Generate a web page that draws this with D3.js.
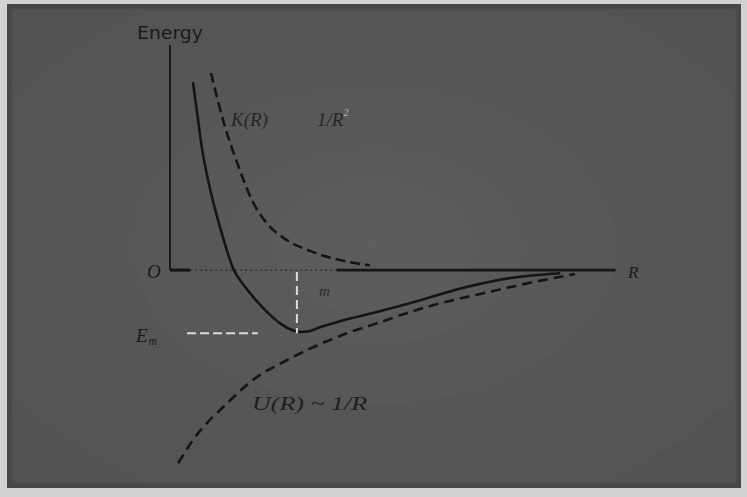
<!DOCTYPE html>
<html>
<head>
<meta charset="utf-8">
<script src="https://cdn.jsdelivr.net/npm/d3@7/dist/d3.min.js"></script>
<style>
  html, body { margin: 0; padding: 0; background: #cfcfcf; }
  svg { display: block; }
</style>
</head>
<body>
<svg id="chart" width="747" height="497"></svg>
<script>
// Separation R (arbitrary units) and energies along the three curves
const totalR = [0.51, 0.60, 0.71, 0.87, 1.11, 1.42, 1.62, 1.87, 2.16, 2.47, 2.71, 2.89, 3.09, 3.33, 3.78, 4.60, 5.33, 6.60, 7.56, 8.67];
const totalE = [4.70, 3.95, 3.05, 2.13, 1.08, 0.00, -0.35, -0.70, -1.05, -1.35, -1.50, -1.55, -1.53, -1.43, -1.28, -1.05, -0.83, -0.42, -0.20, -0.08];

const kineticR = [0.91, 1.18, 1.51, 1.82, 2.13, 2.53, 3.11, 3.78, 4.44];
const kineticE = [4.93, 3.75, 2.63, 1.75, 1.20, 0.80, 0.48, 0.25, 0.12];

const potentialR = [0.18, 0.51, 1.27, 1.84, 2.60, 3.18, 3.93, 4.60, 5.33, 5.84, 6.96, 8.07, 9.00];
const potentialE = [-4.83, -4.25, -3.33, -2.75, -2.25, -1.93, -1.58, -1.33, -1.05, -0.88, -0.58, -0.30, -0.10];

// Equilibrium separation and minimum energy
const Rm = 2.82;
const Em = -1.58;

const rDomain = [0, 10];
const eDomain = [-5, 5.63];

const svg = d3.select("#chart");
const x = d3.scaleLinear().domain(rDomain).range([170, 620]);
const y = d3.scaleLinear().domain(eDomain).range([470, 45]);

// Scanned-page backdrop
const defs = svg.append("defs");
const grad = defs.append("radialGradient").attr("id", "paper").attr("cx", "50%").attr("cy", "50%").attr("r", "70%");
grad.append("stop").attr("offset", "0%").attr("stop-color", "#5d5d5d");
grad.append("stop").attr("offset", "100%").attr("stop-color", "#525252");
defs.append("filter").attr("id", "soft").append("feGaussianBlur").attr("stdDeviation", 1.2);

svg.append("rect").attr("x", 0).attr("y", 0).attr("width", 747).attr("height", 497).attr("fill", "#d2d2d2");
svg.append("rect").attr("x", 7).attr("y", 4).attr("width", 734).attr("height", 484).attr("fill", "#474747");
svg.append("rect").attr("x", 12).attr("y", 9).attr("width", 724).attr("height", 474).attr("fill", "url(#paper)")
  .attr("filter", "url(#soft)");

const ink = "#151515";
const toPts = (rs, es) => rs.map((r, i) => [r, es[i]]);
const line = d3.line().x(d => x(d[0])).y(d => y(d[1])).curve(d3.curveMonotoneX);

// Energy axis (upper part crisp, lower part smeared)
svg.append("line").attr("x1", x(0)).attr("x2", x(0)).attr("y1", y(5.63)).attr("y2", y(0))
  .attr("stroke", ink).attr("stroke-width", 1.8);
svg.append("line").attr("x1", x(0) - 3).attr("x2", x(0) - 3).attr("y1", y(-0.5)).attr("y2", y(-4.9))
  .attr("stroke", "#2b2b2b").attr("stroke-width", 5).attr("stroke-dasharray", "44 8")
  .attr("opacity", 0.85).attr("filter", "url(#soft)");

// R axis
svg.append("line").attr("x1", x(0)).attr("x2", x(0.45)).attr("y1", y(0)).attr("y2", y(0))
  .attr("stroke", ink).attr("stroke-width", 3);
svg.append("line").attr("x1", x(0.45)).attr("x2", x(3.7)).attr("y1", y(0)).attr("y2", y(0))
  .attr("stroke", "#2a2a2a").attr("stroke-width", 1.2).attr("stroke-dasharray", "2 3");
svg.append("line").attr("x1", x(3.7)).attr("x2", x(9.9)).attr("y1", y(0)).attr("y2", y(0))
  .attr("stroke", ink).attr("stroke-width", 2.6);

// Curves
svg.append("path").datum(toPts(kineticR, kineticE)).attr("d", line)
  .attr("fill", "none").attr("stroke", ink).attr("stroke-width", 2.6).attr("stroke-dasharray", "10 5");
svg.append("path").datum(toPts(potentialR, potentialE)).attr("d", line)
  .attr("fill", "none").attr("stroke", ink).attr("stroke-width", 2.6).attr("stroke-dasharray", "10 6");
svg.append("path").datum(toPts(totalR, totalE)).attr("d", line)
  .attr("fill", "none").attr("stroke", ink).attr("stroke-width", 2.6);

// Guides to the minimum
svg.append("line").attr("x1", x(0.38)).attr("x2", x(1.95)).attr("y1", y(Em)).attr("y2", y(Em))
  .attr("stroke", "#dcdcdc").attr("stroke-width", 2).attr("stroke-dasharray", "9 4");
svg.append("line").attr("x1", x(Rm)).attr("x2", x(Rm)).attr("y1", y(-0.05)).attr("y2", y(Em))
  .attr("stroke", "#dcdcdc").attr("stroke-width", 2).attr("stroke-dasharray", "9 5");

// Labels
const serif = "'Liberation Serif', 'DejaVu Serif', serif";
svg.append("text").attr("x", 137).attr("y", 39).text("Energy")
  .attr("font-family", "'DejaVu Sans', sans-serif").attr("font-size", 17).attr("fill", "#1a1a1a")
  .attr("textLength", 66).attr("lengthAdjust", "spacingAndGlyphs");
svg.append("text").attr("x", 147).attr("y", 278).text("O")
  .attr("font-family", serif).attr("font-style", "italic").attr("font-size", 19).attr("fill", "#1a1a1a");
svg.append("text").attr("x", 628).attr("y", 278).text("R")
  .attr("font-family", serif).attr("font-style", "italic").attr("font-size", 17).attr("fill", "#1a1a1a");

const emLabel = svg.append("text").attr("x", 136).attr("y", 342)
  .attr("font-family", serif).attr("font-style", "italic").attr("font-size", 19).attr("fill", "#1a1a1a");
emLabel.append("tspan").text("E");
emLabel.append("tspan").text("m").attr("font-size", 12).attr("dy", 3).attr("dx", 1);

svg.append("text").attr("x", 319).attr("y", 296).text("m")
  .attr("font-family", serif).attr("font-style", "italic").attr("font-size", 15).attr("fill", "#2a2a2a");

svg.append("text").attr("x", 231).attr("y", 126).text("K(R)")
  .attr("font-family", serif).attr("font-style", "italic").attr("font-size", 19).attr("fill", "#262626");
const kLaw = svg.append("text").attr("x", 317).attr("y", 126)
  .attr("font-family", serif).attr("font-style", "italic").attr("font-size", 19).attr("fill", "#262626");
kLaw.append("tspan").text("1/R");
kLaw.append("tspan").text("2").attr("font-size", 10).attr("dy", -10).attr("fill", "#bcbcbc");

svg.append("text").attr("x", 252).attr("y", 410).text("U(R) ~ 1/R")
  .attr("font-family", serif).attr("font-style", "italic").attr("font-size", 19).attr("fill", "#1e1e1e")
  .attr("textLength", 115).attr("lengthAdjust", "spacingAndGlyphs");
</script>
</body>
</html>
